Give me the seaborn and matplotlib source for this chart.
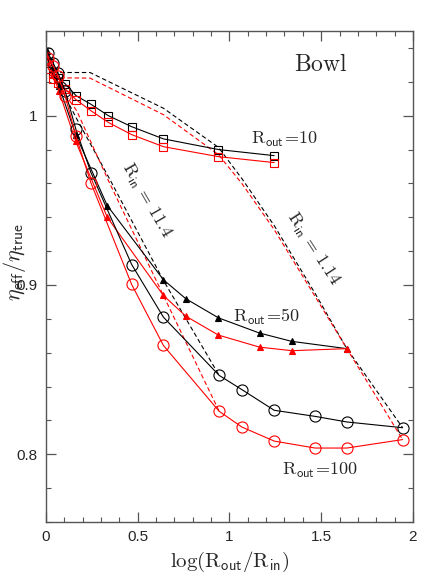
import pandas as pd
import numpy as np
import matplotlib
matplotlib.use("Agg")
import matplotlib.pyplot as plt
import seaborn as sns

# R_out = 10 (squares)
x_sq = [0.016, 0.038, 0.065, 0.104, 0.164, 0.244, 0.340, 0.467, 0.640, 0.940, 1.244]
y_sq_black = [1.0313, 1.0254, 1.0224, 1.0189, 1.0118, 1.0068, 1.0000, 0.9935, 0.9863, 0.9800, 0.9764]
y_sq_red = [1.0277, 1.0218, 1.0195, 1.0159, 1.0094, 1.0030, 0.9960, 0.9888, 0.9817, 0.9758, 0.9723]

# R_out = 50 (triangles)
x_tri = [0.005, 0.038, 0.070, 0.162, 0.334, 0.640, 0.762, 0.940, 1.164, 1.340, 1.640]
y_tri_black = [1.0383, 1.0277, 1.0177, 0.9888, 0.9469, 0.9031, 0.8919, 0.8806, 0.8716, 0.8667, 0.8624]
y_tri_red = [1.0348, 1.0242, 1.0147, 0.9848, 0.9400, 0.8938, 0.8816, 0.8704, 0.8633, 0.8612, 0.8624]

# R_out = 100 (circles)
x_circ = [0.010, 0.038, 0.065, 0.104, 0.162, 0.245, 0.467, 0.640, 0.944, 1.068, 1.244, 1.467, 1.640, 1.944]
y_circ_black = [1.0372, 1.0313, 1.0254, 1.0147, 0.9923, 0.9664, 0.9121, 0.8810, 0.8466, 0.8382, 0.8260, 0.8224, 0.8191, 0.8157]
y_circ_red = [1.0342, 1.0295, 1.0236, 1.0118, 0.9882, 0.9603, 0.9003, 0.8643, 0.8254, 0.8161, 0.8078, 0.8037, 0.8037, 0.8087]

# constant R_in = 1.14 (dashed)
x_rin1 = [0.038, 0.240, 0.640, 0.940, 1.068, 1.244, 1.467, 1.640, 1.944]
y_rin1_black = [1.0255, 1.0255, 1.0044, 0.9813, 0.9628, 0.9351, 0.8950, 0.8624, 0.8157]
y_rin1_red = [1.0224, 1.0222, 1.0006, 0.9770, 0.9599, 0.9327, 0.8932, 0.8624, 0.8087]

# constant R_in = 11.4 (dashed)
x_rin11 = [0.038, 0.167, 0.340, 0.640, 0.944]
y_rin11_black = [1.0254, 0.9982, 0.9640, 0.9027, 0.8466]
y_rin11_red = [1.0224, 1.0030, 0.9617, 0.8938, 0.8254]

sns.set_style("ticks")
plt.rcParams["font.family"] = ["Liberation Sans", "DejaVu Sans"]
plt.rcParams["mathtext.fontset"] = "cm"

fig = plt.figure(figsize=(4.36, 5.81), dpi=100)
ax = fig.add_axes([0.1055, 0.1015, 0.8415, 0.8451])

red = "#ff0000"
dash = dict(linestyle=(0, (4, 2.5)), linewidth=0.8)

# dashed lines of constant R_in
for xs, ys, c in [(x_rin1, y_rin1_black, "black"), (x_rin1, y_rin1_red, red),
                  (x_rin11, y_rin11_black, "black"), (x_rin11, y_rin11_red, red)]:
    sns.lineplot(x=xs, y=ys, color=c, sort=False, estimator=None, ax=ax, **dash)

# solid lines with markers
series = [
    (x_sq, y_sq_black, "black", "s", 6.3, "none"),
    (x_sq, y_sq_red, red, "s", 6.3, "none"),
    (x_tri, y_tri_black, "black", "^", 5.0, "black"),
    (x_tri, y_tri_red, red, "^", 5.0, red),
    (x_circ, y_circ_black, "black", "o", 8.0, "none"),
    (x_circ, y_circ_red, red, "o", 8.0, "none"),
]
for xs, ys, c, m, ms, fc in series:
    sns.lineplot(x=xs, y=ys, color=c, marker=m, markersize=ms, mfc=fc, mec=c, mew=0.8,
                 linewidth=0.8, sort=False, estimator=None, ax=ax)

ax.set_xlim(0, 2)
ax.set_ylim(0.76, 1.05)
ax.set_xticks([0, 0.5, 1, 1.5, 2])
ax.set_xticklabels(["0", "0.5", "1", "1.5", "2"])
ax.set_yticks([0.8, 0.9, 1.0])
ax.set_yticklabels(["0.8", "0.9", "1"])
ax.set_xticks(np.arange(0, 2.01, 0.1), minor=True)
ax.set_yticks(np.arange(0.76, 1.051, 0.02), minor=True)
ax.tick_params(which="both", direction="in", top=True, right=True, color="#555555", labelsize=11)
ax.tick_params(which="major", length=7, width=0.9, pad=6)
ax.tick_params(which="minor", length=3.5, width=0.8)
for s in ax.spines.values():
    s.set_color("#555555")
    s.set_linewidth(1.0)

ax.set_xlabel(r"$\mathrm{log(R_{\mathsf{out}}/R_{\mathsf{in}})}$", fontsize=15, labelpad=4)
ax.set_ylabel(r"$\eta_{\mathsf{eff}}/\eta_{\mathsf{true}}$", fontsize=16)
ax.yaxis.set_label_coords(-0.05, 0.53)

ax.text(1.50, 1.030, r"$\mathrm{Bowl}$", fontsize=17, ha="center", va="center")
ax.text(1.30, 0.986, r"$\mathrm{R_{\mathsf{out}}\!=\!10}$", fontsize=13, ha="center", va="center")
ax.text(1.20, 0.8814, r"$\mathrm{R_{\mathsf{out}}\!=\!50}$", fontsize=13, ha="center", va="center")
ax.text(1.495, 0.7906, r"$\mathrm{R_{\mathsf{out}}\!=\!100}$", fontsize=13, ha="center", va="center")
ax.text(1.457, 0.9215, r"$\mathrm{R_{\mathsf{in}}\,=\,1.14}$", fontsize=13, ha="center", va="center",
        rotation=-57, rotation_mode="anchor")
ax.text(0.545, 0.9498, r"$\mathrm{R_{\mathsf{in}}\,=\,11.4}$", fontsize=13, ha="center", va="center",
        rotation=-60, rotation_mode="anchor")

fig.savefig("out.png", dpi=100)
